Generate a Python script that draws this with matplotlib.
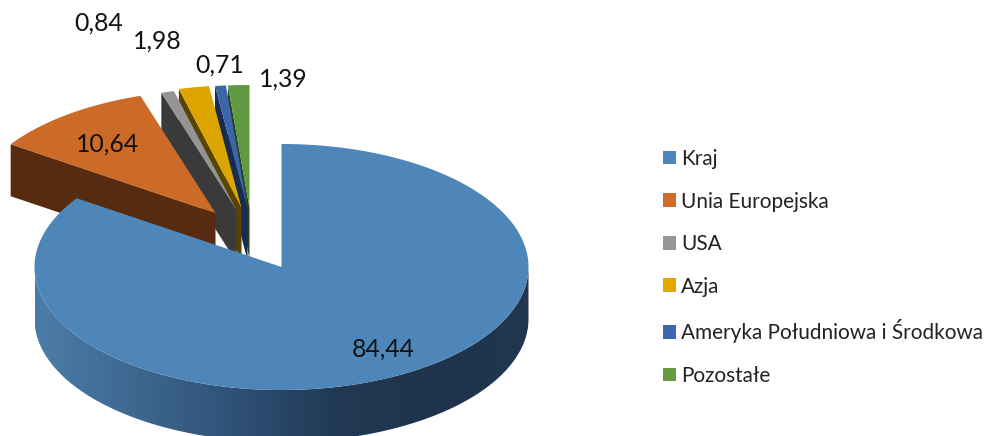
import matplotlib
matplotlib.use('Agg')
import matplotlib.pyplot as plt
import numpy as np
from matplotlib.colors import LinearSegmentedColormap
from matplotlib.patches import Patch, Polygon

plt.rcParams['font.family'] = ['Lato', 'DejaVu Sans']

# dane
categories = ['Kraj', 'Unia Europejska', 'USA', 'Azja',
              'Ameryka Południowa i Środkowa', 'Pozostałe']
values = [84.44, 10.64, 0.84, 1.98, 0.71, 1.39]
value_labels = ['84,44', '10,64', '0,84', '1,98', '0,71', '1,39']

# kolory
top_colors = ['#4E86B9', '#CC6A28', '#949494', '#DCA500', '#3A65A8', '#5F9A40']
wall_colors = ['#2F5478', '#572B10', '#3A3A3A', '#5A4300', '#172C4F', '#28401C']
legend_colors = ['#4F86BA', '#D06D2B', '#969696', '#E5A800', '#3F67AE', '#659C42']
rim_colors = ['#4B7CA9', '#3E6890', '#2F5177', '#223A56', '#1F344C', '#20374F']

# geometria w pikselach
cx, cy = 281.5, 267
rx, ry = 247, 123
depth = 52
explode_x = [0, 66, 45, 40, 34, 32]
explode_y = [0, 54, 57, 59, 59, 59]
label_x = [383, 108, 99, 157, 220, 283]
label_y = [349, 144, 23, 41, 65, 79]

fig = plt.figure(figsize=(9.84, 4.36), dpi=100)
ax = fig.add_axes([0, 0, 1, 1])
ax.set_xlim(0, 984)
ax.set_ylim(436, 0)
ax.axis('off')

shares = np.array(values) / sum(values) * 360
stops = np.concatenate([[0], np.cumsum(shares)])


def rim(x0, y0, a, b):
    # punkty luku, kat liczony od godziny 12 zgodnie ze wskazowkami
    t = np.radians(np.linspace(a, b, 200))
    return np.column_stack([x0 + rx * np.sin(t), y0 - ry * np.cos(t)])


# najpierw tylne wycinki, potem coraz blizsze
for i in [5, 4, 3, 2, 1, 0]:
    x0 = cx - explode_x[i]
    y0 = cy - explode_y[i]
    arc = rim(x0, y0, stops[i], stops[i + 1])
    if i > 0:
        # sciana przekroju widoczna od przodu
        sx, sy = arc[0]
        wall = [(x0, y0), (sx, sy), (sx, sy + depth), (x0, y0 + depth)]
        ax.add_patch(Polygon(wall, closed=True, fc=wall_colors[i], ec='none', zorder=2 + 2 * (5 - i)))
    else:
        # bok duzego wycinka z gradientem
        front = rim(x0, y0, 90, 270)
        side = np.vstack([front, front[::-1] + [0, depth]])
        poly = Polygon(side, closed=True, fc='none', ec='none', transform=ax.transData)
        ax.add_patch(poly)
        cmap = LinearSegmentedColormap.from_list('rim', rim_colors)
        grad = np.linspace(0, 1, 256).reshape(1, -1)
        im = ax.imshow(grad, cmap=cmap, extent=[x0 - rx, x0 + rx, 450, 260],
                       aspect='auto', zorder=13)
        im.set_clip_path(poly)
    top = np.vstack([[x0, y0], arc])
    ax.add_patch(Polygon(top, closed=True, fc=top_colors[i], ec='none', zorder=3 + 2 * (5 - i) + (2 if i == 0 else 0)))

ax.set_xlim(0, 984)
ax.set_ylim(436, 0)

for i in range(len(values)):
    ax.text(label_x[i], label_y[i], value_labels[i], fontsize=17.8, color='#111111',
            ha='center', va='center', zorder=20)

handles = [Patch(fc=c, ec='none', label=n) for c, n in zip(legend_colors, categories)]
ax.legend(handles=handles, loc='upper left', bbox_to_anchor=(663, 149), bbox_transform=ax.transData,
          frameon=False, fontsize=14.95, borderpad=0, borderaxespad=0, labelspacing=1.085,
          handlelength=0.63, handleheight=0.63, handletextpad=0.24, labelcolor='#222222')

fig.savefig('out.png', dpi=100)
